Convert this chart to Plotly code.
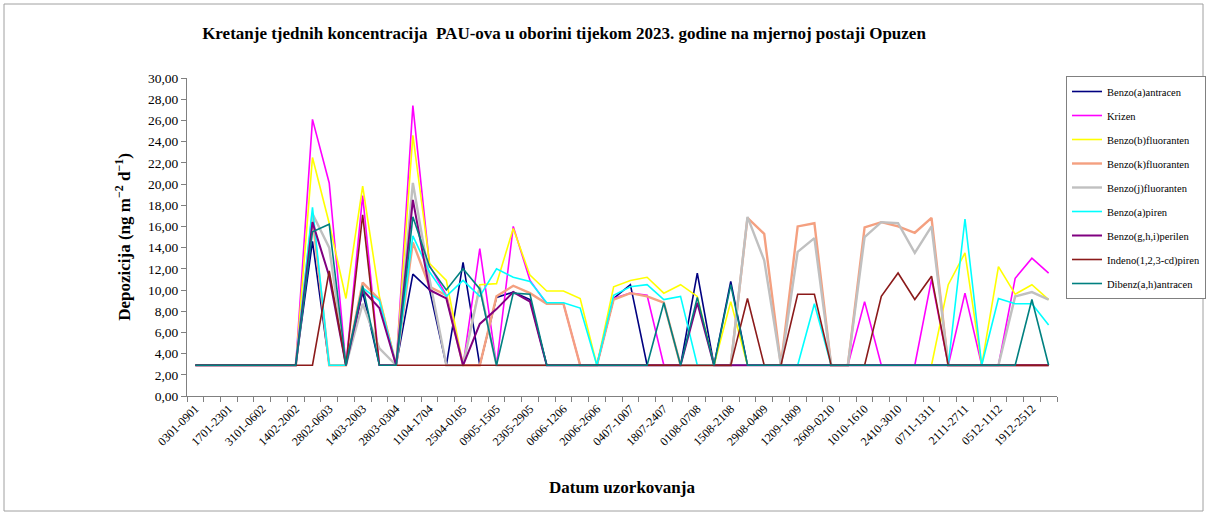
import plotly.graph_objects as go

B = 2.9

categories = [
    "0301-0901", "1001-1601", "1701-2301", "2401-3001", "3101-0602", "0702-1302",
    "1402-2002", "2102-2702", "2802-0603", "0703-1303", "1403-2003", "2103-2703",
    "2803-0304", "0404-1004", "1104-1704", "1804-2404", "2504-0105", "0205-0805",
    "0905-1505", "1605-2205", "2305-2905", "3005-0506", "0606-1206", "1306-1906",
    "2006-2606", "2706-0307", "0407-1007", "1107-1707", "1807-2407", "2507-3107",
    "0108-0708", "0808-1408", "1508-2108", "2208-2808", "2908-0409", "0509-1109",
    "1209-1809", "1909-2509", "2609-0210", "0310-0910", "1010-1610", "1710-2310",
    "2410-3010", "3110-0611", "0711-1311", "1411-2011", "2111-2711", "2811-0412",
    "0512-1112", "1212-1812", "1912-2512", "2612-0101",
]

benzo_a_antracen = [B]*7 + [14.6, B, B, 9.8, B, B, 11.5, 10.0, B, 12.6, B, 9.3, 9.8, 9.1,
                            B, B, B, B, 9.2, 10.5, B, B, B, 11.6, B, 10.8] + [B]*19
krizen = [B]*7 + [26.1, 20.1, B, 18.9, B, B, 27.4, 12.3, 9.5, B, 13.9, B, 16.0, 10.9,
                  8.7, 8.7, B, B, 9.2, 9.7, 9.5] + [B]*12 + [8.9, B, B, B, 11.0, B, 9.7,
                  B, B, 11.1, 13.0, 11.6]
benzo_b_fluoranten = [B]*7 + [22.5, 16.3, 9.2, 19.8, 9.4, B, 24.6, 12.5, 10.9, B, 10.5,
                              10.6, 15.8, 11.4, 9.9, 9.9, 9.2, B, 10.3, 10.9, 11.2, 9.7,
                              10.5, 9.4, B, 8.9] + [B]*12 + [10.5, 13.5, B, 12.2, 9.6,
                              10.5, 9.1]
benzo_k_fluoranten = [B]*7 + [16.9, B, B, 10.7, 9.1, B, 14.5, 10.3, 9.5, B, B, 9.4, 10.4,
                              9.7, 8.7, 8.7, B, B, 9.1, 9.7, 9.4, 8.8, B, B, B, B, 16.8,
                              15.3, B, 16.0, 16.3, B, B, 15.9, 16.4, 16.0, 15.4, 16.8] + [B]*7
benzo_j_fluoranten = [B]*7 + [17.2, 14.0, B, 8.7, 4.5, B, 20.1, 11.0, B, B, 10.3] + [B]*15 + \
                     [16.9, 12.8, B, 13.6, 14.9, B, B, 15.0, 16.4, 16.3, 13.5, 16.0,
                      B, B, B, B, 9.4, 9.8, 9.1]
benzo_a_piren = [B]*7 + [17.8, B, B, 10.2, 9.0, B, 15.1, 11.7, 9.4, 10.9, 9.4, 12.0, 11.2,
                         10.8, 8.8, 8.8, 8.3, B, 9.5, 10.3, 10.5, 9.1, 9.4] + [B]*7 + \
                [8.7] + [B]*8 + [16.7, B, 9.2, 8.7, 8.7, 6.7]
benzo_ghi_perilen = [B]*7 + [16.4, 11.3, B, 10.0, 8.3, B, 18.5, 10.0, 9.2, B, 6.8, 8.2, 9.8,
                             8.9] + [B]*9 + [8.8] + [B]*21
indeno_pyren = [B]*8 + [11.8, B, 17.1] + [B]*22 + [9.2, B, B, 9.6, 9.6, B, B, B, 9.4, 11.6,
                                                   9.1, 11.3] + [B]*7
dibenz_ah_antracen = [B]*7 + [15.5, 16.2, B, 10.4, B, B, 16.9, 12.2, 10.0, 12.0, 10.1, B, 9.7,
                              9.6] + [B]*7 + [8.8, B, 9.3, B, 10.5] + [B]*17 + [9.1, B]

series_names = ["Benzo(a)antracen", "Krizen", "Benzo(b)fluoranten", "Benzo(k)fluoranten",
                "Benzo(j)fluoranten", "Benzo(a)piren", "Benzo(g,h,i)perilen",
                "Indeno(1,2,3-cd)piren", "Dibenz(a,h)antracen"]
series_values = [benzo_a_antracen, krizen, benzo_b_fluoranten, benzo_k_fluoranten,
                 benzo_j_fluoranten, benzo_a_piren, benzo_ghi_perilen, indeno_pyren,
                 dibenz_ah_antracen]
colors = ["#000080", "#FF00FF", "#FFFF00", "#F4A080", "#C0C0C0", "#00FFFF", "#800080",
          "#8B1A1A", "#008080"]
widths = [1.6, 1.6, 1.6, 2.4, 2.4, 1.6, 2.0, 1.6, 1.6]

tick_text = [c if i % 2 == 0 else "" for i, c in enumerate(categories)]

FONT = "Liberation Serif, Times New Roman, serif"

fig = go.Figure()
for name, vals, col, w in zip(series_names, series_values, colors, widths):
    assert len(vals) == len(categories), (name, len(vals))
    fig.add_trace(go.Scatter(x=categories, y=vals, mode="lines", name=name,
                             legendgroup=name,
                             line=dict(color=col, width=w), hoverinfo="skip"))

L, R, T, Bm = 187, 150, 78, 120
W, H = 1207, 516
pw, ph = W - L - R, H - T - Bm


def px_x(x):
    return (x - L) / pw


def px_y(y):
    return (H - Bm - y) / ph


fig.update_layout(
    width=W, height=H,
    margin=dict(l=L, r=R, t=T, b=Bm, pad=0, autoexpand=False),
    paper_bgcolor="white", plot_bgcolor="white",
    separators=", ",
    font=dict(family=FONT, color="black"),
    title=dict(text="<b>Kretanje tjednih koncentracija  PAU-ova u oborini tijekom 2023. godine na mjernoj postaji Opuzen</b>",
               x=564 / W, xanchor="center", y=1 - 33 / H, yanchor="middle",
               font=dict(size=17, family=FONT)),
    xaxis=dict(type="category", range=[-0.5, len(categories) - 0.5],
               tickmode="array", tickvals=categories, ticktext=tick_text,
               tickson="boundaries", ticks="outside", ticklen=5, tickcolor="#808080",
               tickangle=-45, tickfont=dict(size=12, family=FONT),
               showline=True, linecolor="#808080", linewidth=1, showgrid=False,
               zeroline=False,
               title=dict(text="<b>Datum uzorkovanja</b>", font=dict(size=17, family=FONT),
                          standoff=33)),
    yaxis=dict(range=[0, 30], dtick=2, tick0=0, tickformat=".2f",
               ticks="outside", ticklen=5, tickcolor="#808080",
               tickfont=dict(size=13.5, family=FONT),
               showline=True, linecolor="#808080", linewidth=1, showgrid=False,
               zeroline=False,
               title=dict(text="<b>Depozicija (ng m<sup>−2</sup> d<sup>−1</sup>)</b>",
                          font=dict(size=17, family=FONT), standoff=12)),
    legend=dict(xref="container", yref="container",
                x=1066 / W, xanchor="left", y=1 - 76 / H, yanchor="top",
                bordercolor="#808080", borderwidth=1, bgcolor="white",
                font=dict(size=10.5, family=FONT), tracegroupgap=5,
                itemwidth=30, traceorder="grouped"),
    shapes=[dict(type="rect", xref="paper", yref="paper",
                 x0=px_x(4), x1=px_x(1203), y0=px_y(511), y1=px_y(4),
                 line=dict(color="#A0A0A0", width=1), fillcolor="rgba(0,0,0,0)",
                 layer="below")],
)

fig.write_html("out.html", config={"displayModeBar": False},
               post_script="document.body.style.margin='0px';document.body.style.overflow='hidden';")
